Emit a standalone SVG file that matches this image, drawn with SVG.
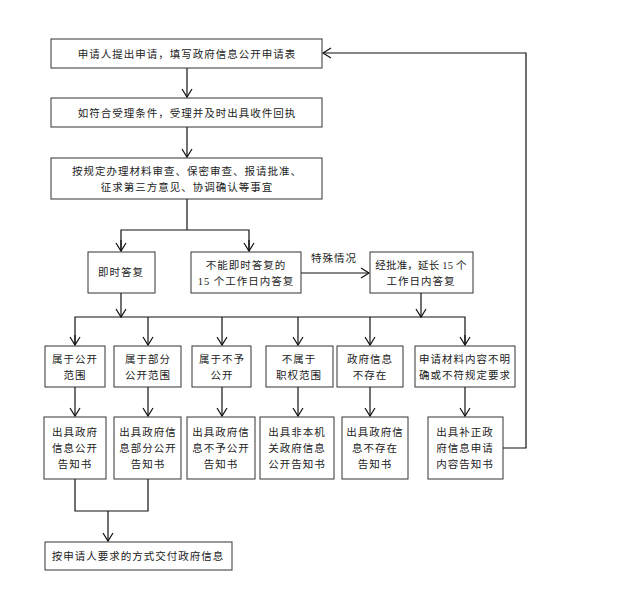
<svg xmlns="http://www.w3.org/2000/svg" width="623" height="600" viewBox="0 0 623 600">
<style>
rect{fill:#fff;stroke:#333;stroke-width:1}
text{font-family:"Liberation Serif","Noto Sans CJK SC",serif;font-size:10.5px;letter-spacing:1px;fill:#222;text-anchor:middle}
.t{letter-spacing:0.2px}
.c path{fill:none;stroke:#111;stroke-width:1.2}
</style>
<defs><marker id="a" markerWidth="12" markerHeight="12" refX="10" refY="6" orient="auto" markerUnits="userSpaceOnUse"><path d="M2,1 L10,6 L2,11" fill="none" stroke="#111" stroke-width="1.2"/></marker></defs>
<rect x="0" y="0" width="623" height="600" style="fill:#fff;stroke:none"/>
<g class="c">
<path d="M187,68 V97" marker-end="url(#a)"/>
<path d="M187,127 V157" marker-end="url(#a)"/>
<path d="M187,199 V230"/>
<path d="M121,251 V230 H249 V251" />
<path d="M121,240 V251" marker-end="url(#a)"/>
<path d="M249,240 V251" marker-end="url(#a)"/>
<path d="M301,273 H369" marker-end="url(#a)"/>
<path d="M121,293 V317" marker-end="url(#a)"/>
<path d="M421,293 V317" marker-end="url(#a)"/>
<path d="M75,345 V317 H465 V345"/>
<path d="M75,335 V345" marker-end="url(#a)"/>
<path d="M148,317 V345" marker-end="url(#a)"/>
<path d="M222,317 V345" marker-end="url(#a)"/>
<path d="M298,317 V345" marker-end="url(#a)"/>
<path d="M370,317 V345" marker-end="url(#a)"/>
<path d="M465,335 V345" marker-end="url(#a)"/>
<path d="M75,387 V416" marker-end="url(#a)"/>
<path d="M148,387 V416" marker-end="url(#a)"/>
<path d="M222,387 V416" marker-end="url(#a)"/>
<path d="M298,387 V416" marker-end="url(#a)"/>
<path d="M370,387 V416" marker-end="url(#a)"/>
<path d="M465,387 V416" marker-end="url(#a)"/>
<path d="M75,479 V511 H148 V479"/>
<path d="M108,511 V541" marker-end="url(#a)"/>
<path d="M503,448 H526 V53 H323" marker-end="url(#a)"/>
<text x="334" y="262">特殊情况</text>
</g>
<g id="n1"><rect x="51" y="39" width="271" height="29"/><text x="187" y="57.5">申请人提出申请，填写政府信息公开申请表</text></g>
<g id="n2"><rect x="51" y="98" width="271" height="29"/><text x="187" y="116.5">如符合受理条件，受理并及时出具收件回执</text></g>
<g id="n3"><rect x="51" y="158" width="271" height="41"/><text x="187" y="175">按规定办理材料审查、保密审查、报请批准、</text><text x="187" y="191">征求第三方意见、协调确认等事宜</text></g>
<g id="n4"><rect x="88" y="252" width="67" height="41"/><text x="121" y="276">即时答复</text></g>
<g id="n5"><rect x="191" y="252" width="110" height="41"/><text x="246" y="269">不能即时答复的</text><text x="246" y="285">15 个工作日内答复</text></g>
<g id="n6"><rect x="370" y="252" width="103" height="41"/><text class="t" x="421" y="269">经批准，延长 15 个</text><text x="421" y="285">工作日内答复</text></g>
<g id="b1"><rect x="45" y="346" width="60" height="41"/><text x="75" y="363">属于公开</text><text x="75" y="379">范围</text></g>
<g id="b2"><rect x="114" y="346" width="67" height="41"/><text x="148" y="363">属于部分</text><text x="148" y="379">公开范围</text></g>
<g id="b3"><rect x="192" y="346" width="59" height="41"/><text x="222" y="363">属于不予</text><text x="222" y="379">公开</text></g>
<g id="b4"><rect x="266" y="346" width="67" height="41"/><text x="299" y="363">不属于</text><text x="299" y="379">职权范围</text></g>
<g id="b5"><rect x="337" y="346" width="66" height="41"/><text x="370" y="363">政府信息</text><text x="370" y="379">不存在</text></g>
<g id="b6"><rect x="415" y="346" width="100" height="41"/><text x="465" y="363">申请材料内容不明</text><text x="465" y="379">确或不符规定要求</text></g>
<g id="c1"><rect x="44" y="417" width="62" height="62"/><text x="75" y="436">出具政府</text><text x="75" y="452">信息公开</text><text x="75" y="468">告知书</text></g>
<g id="c2"><rect x="114" y="417" width="67" height="62"/><text x="148" y="436">出具政府信</text><text x="148" y="452">息部分公开</text><text x="148" y="468">告知书</text></g>
<g id="c3"><rect x="187" y="417" width="68" height="62"/><text x="221" y="436">出具政府信</text><text x="221" y="452">息不予公开</text><text x="221" y="468">告知书</text></g>
<g id="c4"><rect x="260" y="417" width="74" height="62"/><text x="297" y="436">出具非本机</text><text x="297" y="452">关政府信息</text><text x="297" y="468">公开告知书</text></g>
<g id="c5"><rect x="342" y="417" width="66" height="62"/><text x="375" y="436">出具政府信</text><text x="375" y="452">息不存在</text><text x="375" y="468">告知书</text></g>
<g id="c6"><rect x="428" y="417" width="75" height="62"/><text x="465" y="436">出具补正政</text><text x="465" y="452">府信息申请</text><text x="465" y="468">内容告知书</text></g>
<g id="f"><rect x="45" y="542" width="187" height="28"/><text x="138" y="560">按申请人要求的方式交付政府信息</text></g>
</svg>
